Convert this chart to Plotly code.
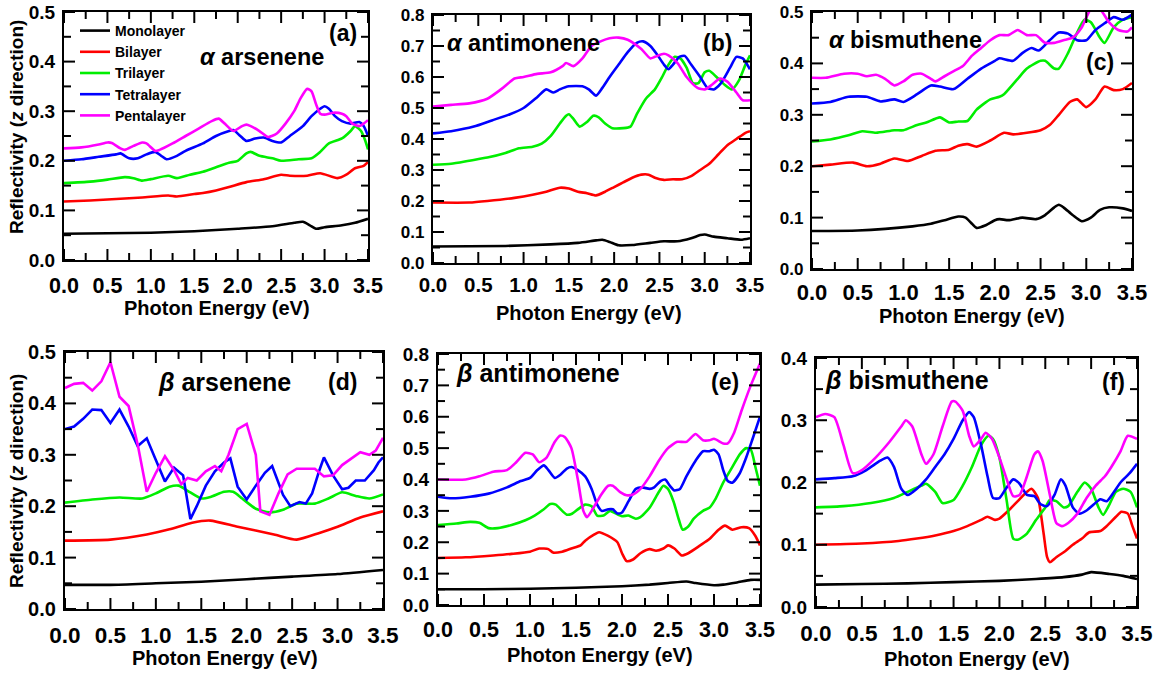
import plotly.graph_objects as go

# ---------------- data (photon energy eV, reflectivity) ----------------
LAYERS = ["Monolayer", "Bilayer", "Trilayer", "Tetralayer", "Pentalayer"]
COLORS = ["#000000", "#ff0000", "#00ee00", "#0000ff", "#ff00ff"]

# (a) alpha arsenene
a_mono = [(0,0.053),(0.5,0.054),(1.0,0.055),(1.5,0.058),(2.0,0.063),(2.4,0.068),(2.65,0.075),(2.75,0.077),(2.83,0.070),(2.9,0.063),(3.0,0.066),(3.2,0.070),(3.35,0.075),(3.5,0.083)]
a_bi = [(0,0.118),(0.3,0.120),(0.6,0.123),(0.9,0.126),(1.2,0.130),(1.3,0.128),(1.5,0.133),(1.6,0.135),(1.75,0.140),(1.9,0.147),(2.1,0.157),(2.3,0.163),(2.5,0.172),(2.6,0.170),(2.8,0.170),(2.95,0.175),(3.15,0.165),(3.25,0.172),(3.35,0.185),(3.45,0.190),(3.5,0.198)]
a_tri = [(0,0.155),(0.3,0.158),(0.5,0.162),(0.7,0.167),(0.8,0.165),(0.9,0.160),(1.0,0.163),(1.2,0.170),(1.3,0.165),(1.45,0.172),(1.6,0.178),(1.75,0.187),(1.9,0.196),(2.0,0.200),(2.1,0.215),(2.15,0.218),(2.25,0.210),(2.4,0.205),(2.5,0.200),(2.7,0.203),(2.85,0.205),(2.95,0.218),(3.05,0.235),(3.2,0.245),(3.3,0.260),(3.35,0.270),(3.42,0.260),(3.47,0.240),(3.5,0.223)]
a_tetra = [(0,0.200),(0.2,0.203),(0.4,0.208),(0.6,0.213),(0.65,0.215),(0.75,0.205),(0.85,0.205),(0.95,0.213),(1.05,0.218),(1.12,0.210),(1.18,0.203),(1.3,0.210),(1.4,0.220),(1.6,0.235),(1.75,0.250),(1.9,0.260),(1.95,0.262),(2.03,0.250),(2.1,0.240),(2.2,0.245),(2.3,0.247),(2.4,0.240),(2.5,0.237),(2.6,0.250),(2.75,0.270),(2.85,0.290),(2.95,0.305),(3.0,0.310),(3.05,0.305),(3.12,0.290),(3.2,0.280),(3.3,0.275),(3.4,0.278),(3.45,0.270),(3.5,0.250)]
a_penta = [(0,0.225),(0.2,0.227),(0.4,0.233),(0.5,0.237),(0.55,0.236),(0.65,0.225),(0.7,0.222),(0.8,0.230),(0.9,0.237),(0.95,0.235),(1.05,0.220),(1.1,0.222),(1.25,0.235),(1.4,0.250),(1.55,0.265),(1.7,0.280),(1.78,0.285),(1.85,0.275),(1.95,0.260),(2.05,0.270),(2.1,0.273),(2.15,0.270),(2.25,0.260),(2.35,0.248),(2.45,0.255),(2.55,0.275),(2.65,0.300),(2.72,0.325),(2.8,0.345),(2.85,0.340),(2.9,0.315),(2.95,0.295),(3.0,0.293),(3.1,0.297),(3.2,0.295),(3.25,0.290),(3.32,0.275),(3.4,0.270),(3.45,0.275),(3.5,0.282)]

# (b) alpha antimonene
b_mono = [(0,0.053),(0.8,0.055),(1.3,0.060),(1.6,0.065),(1.8,0.073),(1.87,0.075),(1.95,0.068),(2.05,0.057),(2.2,0.058),(2.4,0.065),(2.55,0.070),(2.7,0.070),(2.85,0.080),(2.95,0.090),(3.0,0.092),(3.1,0.085),(3.25,0.080),(3.4,0.075),(3.5,0.080)]
b_bi = [(0,0.195),(0.4,0.195),(0.6,0.200),(0.9,0.210),(1.1,0.220),(1.25,0.230),(1.4,0.243),(1.5,0.240),(1.6,0.230),(1.7,0.225),(1.8,0.218),(1.9,0.230),(2.0,0.245),(2.1,0.260),(2.2,0.275),(2.3,0.285),(2.38,0.285),(2.45,0.275),(2.55,0.268),(2.65,0.270),(2.75,0.270),(2.85,0.280),(2.95,0.300),(3.05,0.320),(3.15,0.350),(3.25,0.380),(3.35,0.400),(3.45,0.420),(3.5,0.425)]
b_tri = [(0,0.317),(0.2,0.320),(0.4,0.330),(0.6,0.340),(0.8,0.355),(0.95,0.370),(1.1,0.375),(1.2,0.385),(1.3,0.410),(1.4,0.450),(1.47,0.475),(1.5,0.480),(1.55,0.465),(1.62,0.440),(1.7,0.455),(1.77,0.475),(1.83,0.470),(1.9,0.450),(1.98,0.435),(2.1,0.435),(2.18,0.440),(2.25,0.480),(2.35,0.530),(2.45,0.560),(2.53,0.600),(2.6,0.640),(2.67,0.665),(2.73,0.660),(2.8,0.630),(2.87,0.580),(2.93,0.580),(3.0,0.615),(3.05,0.620),(3.13,0.600),(3.22,0.575),(3.3,0.560),(3.38,0.590),(3.45,0.640),(3.5,0.670)]
b_tetra = [(0,0.418),(0.2,0.425),(0.45,0.440),(0.65,0.460),(0.85,0.480),(1.0,0.500),(1.15,0.535),(1.25,0.560),(1.33,0.550),(1.4,0.560),(1.5,0.570),(1.65,0.570),(1.72,0.560),(1.8,0.540),(1.87,0.565),(1.95,0.600),(2.05,0.640),(2.15,0.680),(2.25,0.710),(2.32,0.715),(2.4,0.700),(2.48,0.670),(2.55,0.640),(2.6,0.625),(2.65,0.640),(2.72,0.665),(2.78,0.668),(2.85,0.640),(2.95,0.600),(3.03,0.565),(3.1,0.560),(3.18,0.580),(3.28,0.630),(3.35,0.665),(3.42,0.660),(3.5,0.625)]
b_penta = [(0,0.505),(0.2,0.510),(0.4,0.515),(0.6,0.530),(0.75,0.560),(0.9,0.595),(1.0,0.600),(1.15,0.610),(1.3,0.615),(1.43,0.635),(1.47,0.645),(1.55,0.635),(1.65,0.660),(1.75,0.700),(1.85,0.715),(1.95,0.725),(2.05,0.727),(2.15,0.720),(2.3,0.690),(2.4,0.660),(2.45,0.665),(2.55,0.675),(2.6,0.670),(2.7,0.645),(2.8,0.600),(2.92,0.565),(3.0,0.560),(3.08,0.575),(3.17,0.595),(3.25,0.585),(3.35,0.550),(3.42,0.525),(3.5,0.525)]

# (c) alpha bismuthene
c_mono = [(0,0.074),(0.5,0.075),(0.8,0.078),(1.1,0.083),(1.3,0.088),(1.45,0.095),(1.6,0.102),(1.68,0.100),(1.75,0.088),(1.8,0.080),(1.9,0.085),(2.0,0.095),(2.05,0.097),(2.15,0.095),(2.3,0.100),(2.45,0.097),(2.55,0.105),(2.65,0.120),(2.7,0.125),(2.75,0.120),(2.85,0.105),(2.95,0.093),(3.05,0.100),(3.15,0.115),(3.25,0.120),(3.4,0.118),(3.5,0.113)]
c_bi = [(0,0.200),(0.2,0.203),(0.45,0.207),(0.6,0.200),(0.75,0.205),(0.9,0.215),(1.05,0.210),(1.2,0.220),(1.35,0.230),(1.5,0.232),(1.6,0.240),(1.7,0.243),(1.8,0.238),(1.95,0.250),(2.1,0.265),(2.2,0.262),(2.35,0.265),(2.5,0.270),(2.6,0.280),(2.7,0.300),(2.82,0.325),(2.9,0.330),(3.0,0.315),(3.1,0.330),(3.2,0.355),(3.3,0.348),(3.4,0.350),(3.5,0.362)]
c_tri = [(0,0.248),(0.2,0.252),(0.4,0.260),(0.55,0.268),(0.7,0.265),(0.9,0.270),(1.0,0.270),(1.15,0.280),(1.25,0.285),(1.4,0.295),(1.5,0.285),(1.6,0.287),(1.7,0.288),(1.8,0.310),(1.95,0.330),(2.05,0.335),(2.1,0.340),(2.25,0.370),(2.35,0.390),(2.5,0.405),(2.55,0.405),(2.65,0.390),(2.7,0.390),(2.8,0.420),(2.9,0.460),(2.98,0.485),(3.05,0.480),(3.15,0.450),(3.2,0.440),(3.3,0.470),(3.4,0.485),(3.5,0.490)]
c_tetra = [(0,0.322),(0.2,0.325),(0.4,0.335),(0.6,0.335),(0.75,0.326),(0.9,0.330),(1.0,0.325),(1.15,0.340),(1.3,0.357),(1.4,0.355),(1.55,0.350),(1.7,0.370),(1.85,0.390),(2.0,0.405),(2.05,0.410),(2.2,0.405),(2.3,0.420),(2.4,0.430),(2.48,0.425),(2.6,0.445),(2.7,0.460),(2.8,0.458),(2.9,0.445),(3.0,0.445),(3.1,0.465),(3.2,0.478),(3.3,0.490),(3.4,0.485),(3.5,0.495)]
c_penta = [(0,0.372),(0.15,0.372),(0.35,0.380),(0.5,0.380),(0.6,0.375),(0.7,0.378),(0.8,0.370),(0.9,0.357),(1.0,0.365),(1.1,0.378),(1.2,0.380),(1.3,0.370),(1.35,0.365),(1.45,0.375),(1.55,0.385),(1.65,0.395),(1.75,0.415),(1.85,0.430),(1.95,0.445),(2.05,0.455),(2.15,0.455),(2.25,0.465),(2.35,0.455),(2.45,0.455),(2.55,0.440),(2.65,0.440),(2.75,0.445),(2.85,0.450),(2.95,0.470),(3.05,0.505),(3.15,0.505),(3.25,0.480),(3.35,0.465),(3.45,0.462),(3.5,0.470)]

# (d) beta arsenene
d_mono = [(0,0.047),(0.5,0.047),(1.0,0.050),(1.5,0.053),(2.0,0.058),(2.5,0.063),(3.0,0.068),(3.5,0.076)]
d_bi = [(0,0.133),(0.5,0.135),(0.9,0.145),(1.15,0.155),(1.4,0.168),(1.6,0.172),(1.9,0.160),(2.3,0.145),(2.55,0.135),(2.8,0.148),(3.0,0.160),(3.25,0.178),(3.5,0.190)]
d_tri = [(0,0.207),(0.3,0.213),(0.6,0.217),(0.85,0.215),(1.0,0.225),(1.15,0.238),(1.25,0.240),(1.35,0.230),(1.5,0.215),(1.6,0.218),(1.75,0.228),(1.85,0.228),(1.95,0.215),(2.1,0.195),(2.25,0.188),(2.4,0.193),(2.55,0.205),(2.75,0.205),(2.9,0.215),(3.05,0.227),(3.2,0.220),(3.35,0.215),(3.5,0.223)]
d_tetra = [(0,0.350),(0.1,0.355),(0.2,0.370),(0.3,0.388),(0.4,0.387),(0.5,0.362),(0.6,0.388),(0.7,0.355),(0.8,0.317),(0.9,0.332),(1.0,0.290),(1.1,0.248),(1.2,0.275),(1.3,0.260),(1.38,0.175),(1.45,0.200),(1.55,0.240),(1.65,0.268),(1.75,0.285),(1.82,0.293),(1.9,0.238),(2.0,0.213),(2.1,0.240),(2.2,0.265),(2.28,0.278),(2.4,0.222),(2.48,0.200),(2.58,0.208),(2.65,0.205),(2.72,0.225),(2.8,0.270),(2.85,0.295),(2.95,0.260),(3.05,0.233),(3.12,0.236),(3.2,0.250),(3.3,0.250),(3.4,0.270),(3.45,0.285),(3.5,0.295)]
d_penta = [(0,0.430),(0.1,0.438),(0.2,0.440),(0.3,0.425),(0.4,0.443),(0.5,0.480),(0.6,0.413),(0.7,0.395),(0.8,0.320),(0.9,0.228),(1.0,0.265),(1.1,0.297),(1.2,0.270),(1.28,0.243),(1.35,0.255),(1.45,0.250),(1.55,0.268),(1.65,0.278),(1.72,0.268),(1.8,0.300),(1.9,0.350),(2.0,0.360),(2.1,0.300),(2.15,0.190),(2.25,0.183),(2.35,0.225),(2.45,0.262),(2.55,0.273),(2.65,0.273),(2.75,0.273),(2.85,0.258),(2.95,0.260),(3.05,0.280),(3.15,0.293),(3.25,0.305),(3.35,0.300),(3.42,0.308),(3.5,0.333)]

# (e) beta antimonene
e_mono = [(0,0.050),(0.5,0.050),(1.0,0.052),(1.5,0.055),(2.0,0.060),(2.3,0.065),(2.5,0.070),(2.7,0.075),(2.8,0.070),(3.0,0.063),(3.1,0.065),(3.25,0.072),(3.4,0.080),(3.5,0.080)]
e_bi = [(0,0.150),(0.3,0.152),(0.6,0.158),(0.8,0.163),(1.0,0.170),(1.1,0.180),(1.2,0.178),(1.25,0.167),(1.35,0.170),(1.45,0.180),(1.55,0.190),(1.6,0.205),(1.7,0.225),(1.75,0.232),(1.85,0.220),(1.95,0.200),(2.0,0.165),(2.05,0.140),(2.12,0.145),(2.2,0.165),(2.3,0.178),(2.37,0.173),(2.45,0.180),(2.5,0.190),(2.57,0.180),(2.65,0.158),(2.72,0.165),(2.85,0.190),(2.95,0.210),(3.05,0.240),(3.12,0.253),(3.2,0.240),(3.3,0.248),(3.38,0.245),(3.45,0.220),(3.5,0.190)]
e_tri = [(0,0.255),(0.2,0.260),(0.35,0.265),(0.45,0.262),(0.55,0.245),(0.65,0.245),(0.8,0.255),(0.95,0.270),(1.05,0.285),(1.15,0.305),(1.22,0.322),(1.28,0.320),(1.35,0.300),(1.4,0.288),(1.45,0.290),(1.52,0.305),(1.6,0.320),(1.67,0.315),(1.73,0.285),(1.8,0.285),(1.87,0.300),(1.93,0.292),(2.0,0.283),(2.07,0.285),(2.15,0.275),(2.2,0.280),(2.3,0.310),(2.4,0.360),(2.45,0.380),(2.5,0.370),(2.56,0.330),(2.62,0.270),(2.66,0.240),(2.72,0.250),(2.78,0.275),(2.88,0.300),(2.95,0.310),(3.02,0.340),(3.1,0.390),(3.2,0.440),(3.28,0.480),(3.35,0.500),(3.4,0.495),(3.45,0.440),(3.5,0.380)]
e_tetra = [(0,0.345),(0.15,0.340),(0.35,0.345),(0.55,0.355),(0.75,0.375),(0.9,0.395),(1.0,0.405),(1.08,0.430),(1.15,0.445),(1.2,0.430),(1.27,0.405),(1.33,0.415),(1.4,0.435),(1.45,0.440),(1.52,0.430),(1.6,0.410),(1.67,0.370),(1.73,0.320),(1.78,0.300),(1.85,0.305),(1.9,0.305),(1.95,0.292),(2.0,0.295),(2.07,0.330),(2.15,0.370),(2.22,0.375),(2.3,0.370),(2.35,0.375),(2.42,0.395),(2.47,0.400),(2.52,0.380),(2.57,0.365),(2.63,0.370),(2.7,0.410),(2.8,0.460),(2.88,0.490),(2.95,0.490),(3.0,0.495),(3.05,0.480),(3.1,0.430),(3.15,0.395),(3.2,0.390),(3.28,0.420),(3.35,0.470),(3.42,0.530),(3.5,0.600)]
e_penta = [(0,0.400),(0.3,0.400),(0.45,0.410),(0.6,0.425),(0.75,0.430),(0.85,0.455),(0.95,0.485),(1.03,0.480),(1.1,0.455),(1.18,0.470),(1.27,0.520),(1.33,0.540),(1.38,0.535),(1.45,0.500),(1.52,0.400),(1.58,0.300),(1.62,0.280),(1.67,0.300),(1.77,0.350),(1.85,0.380),(1.9,0.380),(1.98,0.360),(2.05,0.350),(2.12,0.352),(2.2,0.370),(2.3,0.410),(2.4,0.460),(2.5,0.500),(2.6,0.520),(2.7,0.520),(2.8,0.545),(2.88,0.525),(2.95,0.525),(3.0,0.530),(3.1,0.515),(3.15,0.515),(3.22,0.550),(3.3,0.620),(3.4,0.700),(3.5,0.770)]

# (f) beta bismuthene
f_mono = [(0,0.036),(0.5,0.037),(1.0,0.038),(1.5,0.040),(2.0,0.042),(2.4,0.045),(2.7,0.048),(2.9,0.052),(3.0,0.056),(3.2,0.053),(3.35,0.050),(3.5,0.045)]
f_bi = [(0,0.100),(0.5,0.102),(0.9,0.106),(1.1,0.110),(1.3,0.115),(1.5,0.122),(1.65,0.130),(1.8,0.140),(1.87,0.145),(1.95,0.140),(2.0,0.142),(2.1,0.155),(2.2,0.170),(2.3,0.185),(2.35,0.190),(2.42,0.175),(2.48,0.120),(2.52,0.080),(2.55,0.072),(2.62,0.080),(2.72,0.090),(2.8,0.100),(2.9,0.110),(2.98,0.120),(3.1,0.122),(3.17,0.130),(3.27,0.145),(3.33,0.153),(3.4,0.150),(3.45,0.130),(3.5,0.110)]
f_tri = [(0,0.160),(0.3,0.162),(0.6,0.167),(0.85,0.175),(1.0,0.185),(1.15,0.195),(1.2,0.198),(1.3,0.185),(1.38,0.167),(1.5,0.172),(1.6,0.195),(1.7,0.225),(1.8,0.260),(1.88,0.275),(1.93,0.270),(2.0,0.240),(2.08,0.170),(2.15,0.110),(2.2,0.108),(2.3,0.118),(2.4,0.140),(2.5,0.160),(2.55,0.172),(2.62,0.170),(2.7,0.160),(2.75,0.162),(2.85,0.185),(2.93,0.200),(3.0,0.190),(3.08,0.160),(3.13,0.148),(3.2,0.165),(3.27,0.185),(3.35,0.190),(3.43,0.185),(3.5,0.160)]
f_tetra = [(0,0.205),(0.2,0.207),(0.4,0.210),(0.55,0.220),(0.7,0.235),(0.78,0.240),(0.85,0.225),(0.93,0.190),(1.0,0.180),(1.1,0.190),(1.2,0.205),(1.3,0.225),(1.4,0.245),(1.5,0.270),(1.6,0.300),(1.67,0.313),(1.72,0.305),(1.8,0.260),(1.87,0.210),(1.93,0.175),(2.0,0.175),(2.07,0.190),(2.15,0.205),(2.22,0.198),(2.3,0.180),(2.38,0.178),(2.45,0.165),(2.52,0.162),(2.6,0.180),(2.67,0.205),(2.72,0.195),(2.8,0.160),(2.87,0.150),(2.95,0.155),(3.03,0.165),(3.1,0.173),(3.17,0.170),(3.25,0.185),(3.32,0.200),(3.42,0.215),(3.5,0.230)]
f_penta = [(0,0.305),(0.1,0.310),(0.2,0.305),(0.3,0.260),(0.4,0.215),(0.5,0.220),(0.65,0.240),(0.8,0.265),(0.93,0.290),(0.98,0.300),(1.05,0.290),(1.15,0.245),(1.2,0.230),(1.28,0.245),(1.38,0.290),(1.48,0.330),(1.52,0.330),(1.6,0.315),(1.67,0.275),(1.72,0.258),(1.8,0.270),(1.85,0.280),(1.92,0.270),(2.0,0.240),(2.08,0.205),(2.15,0.178),(2.22,0.180),(2.3,0.210),(2.38,0.245),(2.42,0.250),(2.47,0.235),(2.55,0.180),(2.62,0.135),(2.68,0.130),(2.75,0.135),(2.85,0.150),(2.95,0.175),(3.05,0.195),(3.15,0.210),(3.22,0.225),(3.32,0.250),(3.4,0.275),(3.5,0.270)]

X_MAX = 3.5
X_MAJOR, X_MINOR = 0.5, 0.25
Y_MAJOR, Y_MINOR = 0.1, 0.05
Y_MAX = [0.5, 0.8, 0.5, 0.5, 0.8, 0.4]
MATERIALS = ["<i>α</i> arsenene", "<i>α</i> antimonene", "<i>α</i> bismuthene",
             "<i>β</i> arsenene", "<i>β</i> antimonene", "<i>β</i> bismuthene"]
LETTERS = ["(a)", "(b)", "(c)", "(d)", "(e)", "(f)"]
X_TITLE = "Photon Energy (eV)"
Y_TITLE = "Reflectivity (<i>z</i> direction)"

PANELS = [
    [a_mono, a_bi, a_tri, a_tetra, a_penta],
    [b_mono, b_bi, b_tri, b_tetra, b_penta],
    [c_mono, c_bi, c_tri, c_tetra, c_penta],
    [d_mono, d_bi, d_tri, d_tetra, d_penta],
    [e_mono, e_bi, e_tri, e_tetra, e_penta],
    [f_mono, f_bi, f_tri, f_tetra, f_penta],
]

# ---------------- layout geometry (pixels) ----------------
W, H = 1163, 677
BOX = [(64, 368, 12, 260), (433, 750, 15, 263), (812, 1132, 12, 269),
       (65, 383, 352, 609), (438, 760, 354, 605), (816, 1137, 358, 607)]
YTICK_FS = [19, 17, 17, 20, 19, 19]
XTICK_FS = [21.5, 20.5, 22, 22.5, 21.5, 22.5]
XTICK_STANDOFF = [5, 2, 2, 5, 4, 5]
MAT_FS = [23.5, 23.5, 23.5, 25, 25, 25]
MAT_POS = [(262, 57), (523, 43), (905, 40), (224, 382), (538, 373), (907, 380)]
LET_POS = [(343, 33), (717, 43), (1100, 62), (342, 382), (725, 382), (1113, 382)]
XT_POS = [(217, 308), (589, 313), (972, 316), (225, 658), (600, 655), (977, 659)]
YT_POS = [(16, 127), None, None, (17, 481), None, None]
MAJOR_LEN, MINOR_LEN = 11, 7

FONT = "Liberation Sans"
BLACK = "black"
fig = go.Figure()
annotations = []
shapes = []


def ann(text, x, y, size, angle=0):
    return dict(text=text, x=x / W, y=1 - y / H, xref="paper", yref="paper",
                showarrow=False, xanchor="center", yanchor="middle", textangle=angle,
                font=dict(family=FONT, size=size, color=BLACK, weight="bold"))


def tick_values(vmax, step):
    n = int(round(vmax / step))
    return [round(i * step, 4) for i in range(n + 1)]


for p in range(6):
    xa = "x" if p == 0 else f"x{p+1}"
    ya = "y" if p == 0 else f"y{p+1}"
    for k in range(5):
        pts = PANELS[p][k]
        linear = (p == 3 and k >= 3)
        fig.add_trace(go.Scatter(
            x=[q[0] for q in pts], y=[q[1] for q in pts],
            mode="lines", name=LAYERS[k],
            line=dict(color=COLORS[k], width=2.6,
                      shape="linear" if linear else "spline",
                      smoothing=0 if linear else 0.6),
            showlegend=(p == 0), xaxis=xa, yaxis=ya))
    x0, x1, y0, y1 = BOX[p]
    pw, ph = x1 - x0, y1 - y0
    xkey = "xaxis" if p == 0 else f"xaxis{p+1}"
    ykey = "yaxis" if p == 0 else f"yaxis{p+1}"
    common = dict(showline=True, linecolor=BLACK, linewidth=2.2, mirror=True,
                  showgrid=False, zeroline=False, fixedrange=True, automargin=False,
                  ticks="", ticklen=0)
    fig.layout[xkey] = dict(
        domain=[x0 / W, x1 / W], range=[0, X_MAX], tick0=0, dtick=X_MAJOR, tickformat=".1f",
        anchor=ya, tickfont=dict(family=FONT, size=XTICK_FS[p], color=BLACK, weight="bold"),
        ticklabelstandoff=XTICK_STANDOFF[p], **common)
    fig.layout[ykey] = dict(
        domain=[1 - y1 / H, 1 - y0 / H], range=[0, Y_MAX[p]], tick0=0, dtick=Y_MAJOR,
        tickformat=".1f", anchor=xa,
        tickfont=dict(family=FONT, size=YTICK_FS[p], color=BLACK, weight="bold"),
        ticklabelstandoff=3, **common)

    # inside ticks on all four sides (major + minor), positioned in axis coordinates
    xdom, ydom = f"{xa} domain", f"{ya} domain"
    for v in tick_values(X_MAX, X_MINOR):
        major = abs(v / X_MAJOR - round(v / X_MAJOR)) < 1e-6
        L = (MAJOR_LEN if major else MINOR_LEN) / ph
        for (a, b) in ((0, L), (1 - L, 1)):
            shapes.append(dict(type="line", xref=xa, yref=ydom, x0=v, x1=v, y0=a, y1=b,
                               line=dict(color=BLACK, width=2), layer="above"))
    for v in tick_values(Y_MAX[p], Y_MINOR):
        major = abs(v / Y_MAJOR - round(v / Y_MAJOR)) < 1e-6
        L = (MAJOR_LEN if major else MINOR_LEN) / pw
        for (a, b) in ((0, L), (1 - L, 1)):
            shapes.append(dict(type="line", xref=xdom, yref=ya, x0=a, x1=b, y0=v, y1=v,
                               line=dict(color=BLACK, width=2), layer="above"))

    annotations.append(ann(MATERIALS[p], *MAT_POS[p], MAT_FS[p]))
    annotations.append(ann(LETTERS[p], *LET_POS[p], 23))
    annotations.append(ann(X_TITLE, *XT_POS[p], 20))
    if YT_POS[p] is not None:
        annotations.append(ann(Y_TITLE, *YT_POS[p], 19, angle=-90))

fig.update_layout(
    width=W, height=H, margin=dict(l=0, r=0, t=0, b=0),
    paper_bgcolor="white", plot_bgcolor="white",
    annotations=annotations, shapes=shapes,
    legend=dict(x=75 / W, y=1 - 15 / H, xanchor="left", yanchor="top",
                bgcolor="rgba(0,0,0,0)", borderwidth=0,
                font=dict(family=FONT, size=14, color=BLACK, weight="bold"),
                itemwidth=30, tracegroupgap=0),
)

fig.write_html("out.html")
